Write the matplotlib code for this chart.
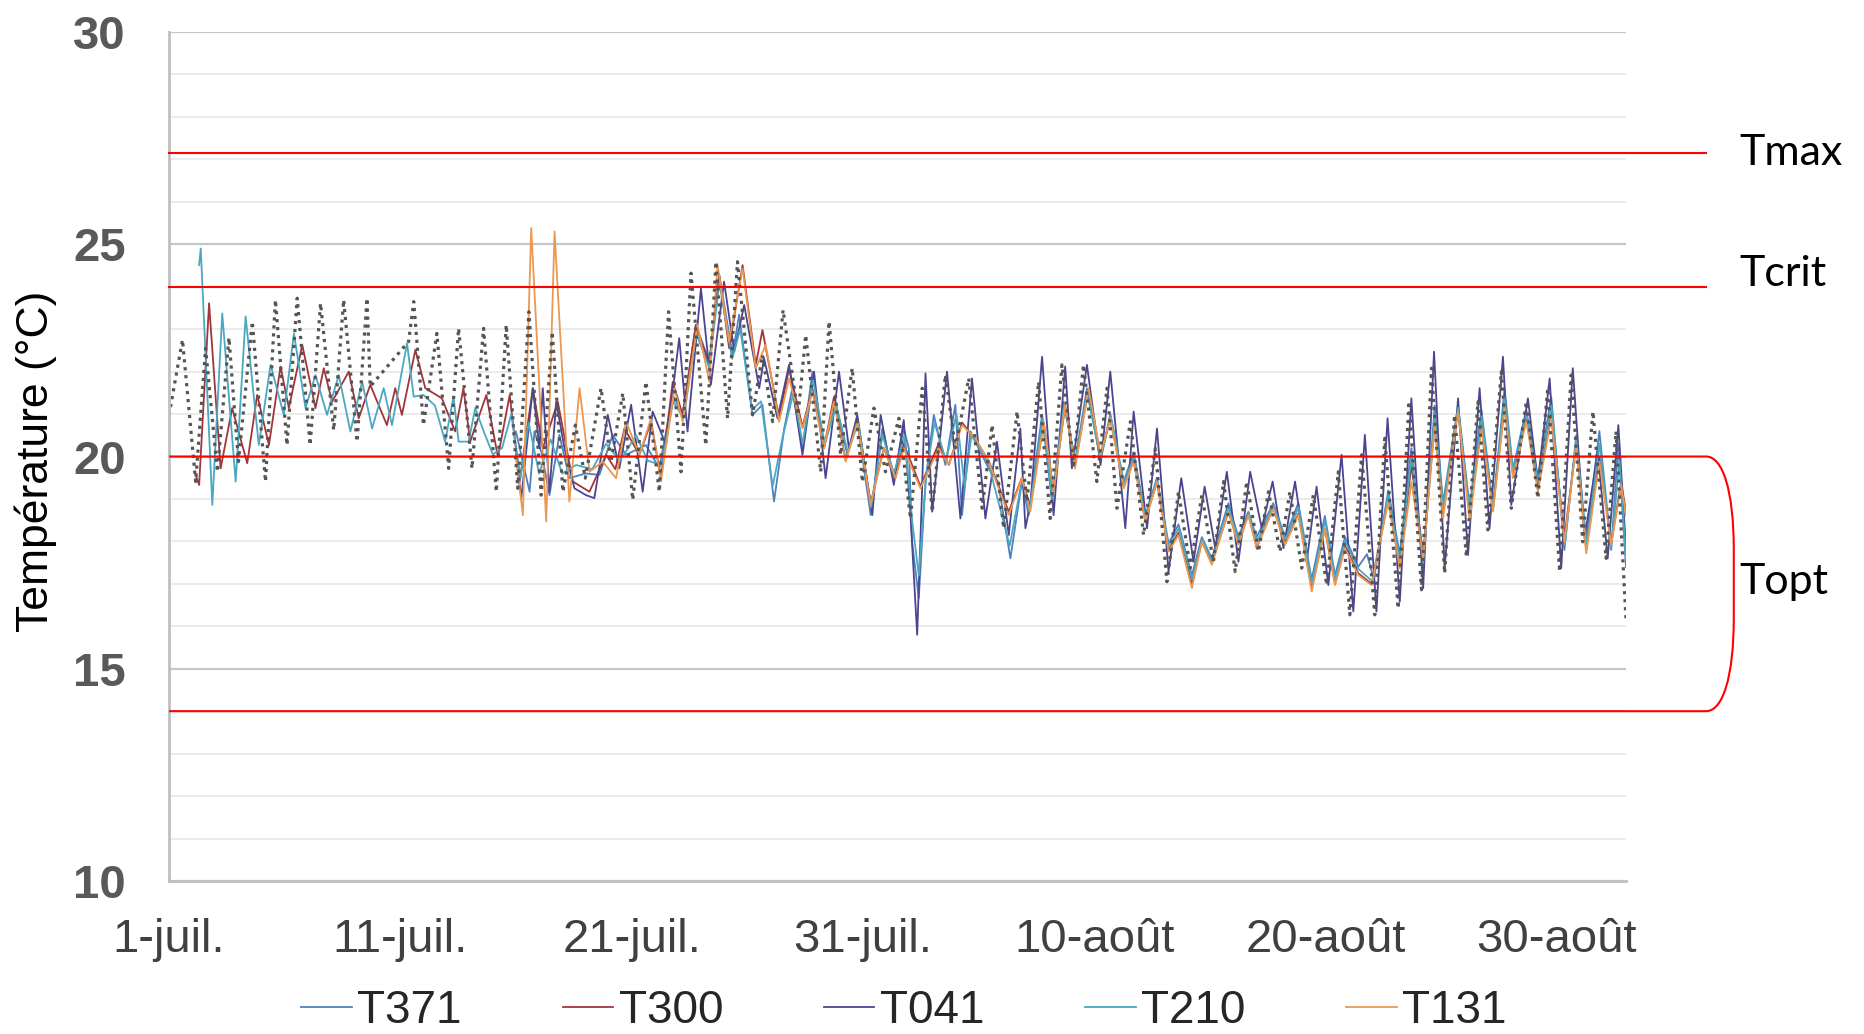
import matplotlib
matplotlib.use("Agg")
from matplotlib import pyplot as plt
from matplotlib.path import Path
from matplotlib.patches import PathPatch
import matplotlib.transforms as mtransforms

# x is counted in days from 1 July
tick_days = [0, 10, 20, 30, 40, 50, 60]
tick_labels = ["1-juil.", "11-juil.", "21-juil.", "31-juil.", "10-août", "20-août", "30-août"]

# thresholds in degC
t_max = 27.15
t_crit = 24.0
t_opt_low = 14.0
t_opt_high = 20.0

# dotted reference series (not listed in the legend)
dot_days = [0.0, 0.58, 1.15, 1.58, 2.09, 2.59, 3.0, 3.6, 4.17, 4.6, 5.1, 5.54, 6.1, 6.55, 7.12, 7.55,
            8.13, 8.56, 8.7, 10.36, 10.58, 11.0, 11.58, 12.09, 12.52, 13.1, 13.6, 14.15, 14.58, 15.08,
            15.56, 16.09, 16.57, 17.03, 17.57, 18.0, 18.68, 19.11, 19.62, 20.05, 20.62, 21.2, 21.6,
            22.14, 22.57, 23.21, 23.65, 24.15, 24.58, 25.23, 25.66, 26.1, 26.55, 27.2, 27.53, 28.18,
            28.54, 29.04, 29.54, 29.98, 30.48, 30.98, 31.56, 32.06, 32.57, 33.0, 33.57, 34.0, 34.58,
            35.16, 35.59, 36.09, 36.67, 37.1, 37.6, 38.1, 38.61, 39.11, 39.54, 40.12, 40.56, 40.99,
            41.57, 42.14, 42.65, 43.15, 43.65, 44.16, 44.66, 45.16, 45.6, 46.1, 46.6, 47.11, 47.54,
            48.04, 48.47, 48.98, 49.48, 50.06, 50.56, 51.06, 51.57, 52.14, 52.57, 53.15, 53.62, 54.16,
            54.59, 55.16, 55.59, 56.1, 56.6, 57.03, 57.61, 58.04, 58.69, 59.19, 59.62, 60.13, 60.63,
            61.13, 61.57, 62.14, 62.57, 63.0]
dot_temp = [20.98, 22.75, 19.41, 22.55, 19.64, 22.8, 19.88, 23.18, 19.41, 23.69, 20.27, 23.73, 20.27,
            23.61, 20.62, 23.69, 20.35, 23.73, 21.65, 22.71, 23.65, 20.74, 22.9, 19.72, 23.02, 19.72,
            23.02, 19.17, 23.1, 19.25, 23.41, 19.09, 22.94, 19.17, 20.74, 19.49, 21.61, 19.88, 21.49,
            18.98, 21.76, 19.17, 23.41, 19.64, 24.32, 20.27, 24.59, 20.9, 24.59, 20.98, 22.39, 20.82,
            23.45, 20.98, 22.86, 19.64, 23.18, 20.04, 22.08, 19.4, 21.14, 19.64, 20.9, 18.54, 21.61,
            18.7, 21.92, 20.2, 21.84, 18.78, 20.74, 18.31, 21.06, 18.94, 21.76, 18.54, 22.16, 19.8,
            22.16, 19.41, 21.61, 18.78, 20.82, 18.15, 20.19, 17.05, 19.17, 17.37, 19.09, 17.52, 19.41,
            17.29, 19.41, 17.76, 19.17, 17.76, 19.17, 17.37, 19.09, 16.97, 19.64, 16.27, 20.04, 16.27,
            20.43, 16.42, 21.3, 16.86, 22.08, 17.25, 20.98, 17.64, 21.29, 18.27, 22.0, 18.78, 21.29,
            19.02, 21.61, 17.29, 21.92, 17.99, 21.06, 17.6, 20.59, 16.19]

t371_days = [15.0, 15.59, 15.8, 16.1, 16.45, 16.88, 17.31, 18.0, 18.61, 19.18, 19.76, 20.62, 21.2,
             21.78, 22.21, 22.78, 23.36, 23.79, 24.37, 24.65, 25.23, 25.66, 26.16, 26.6, 26.95, 27.39,
             27.82, 28.32, 28.82, 29.33, 29.76, 30.34, 30.84, 31.34, 31.77, 31.99, 32.13, 32.42, 32.71,
             33.07, 33.57, 34.0, 34.29, 34.65, 35.44, 35.85, 36.38, 36.88, 37.17, 37.75, 38.18, 38.68,
             39.18, 39.69, 40.28, 40.7, 41.28, 41.71, 42.21, 42.72, 43.22, 43.65, 44.23, 44.66, 45.09,
             45.81, 46.24, 46.67, 47.03, 47.75, 48.26, 48.83, 49.41, 49.98, 50.42, 50.85, 51.42, 51.8,
             52.1, 52.72, 53.22, 53.72, 54.23, 54.73, 55.09, 55.74, 56.24, 56.75, 57.25, 57.75, 58.11,
             58.69, 59.19, 59.77, 60.34, 60.85, 61.28, 61.85, 62.36, 62.67, 63.0]
t371_temp = [20.59, 19.17, 20.59, 20.1, 19.09, 20.51, 19.49, 19.6, 19.57, 20.51, 20.04, 20.27, 19.72,
             21.45, 20.98, 23.1, 22.24, 24.28, 22.39, 23.34, 20.98, 21.22, 18.94, 20.66, 21.6, 20.19,
             22.0, 20.19, 21.29, 20.04, 20.82, 18.62, 20.66, 19.49, 20.66, 20.19, 17.99, 16.66, 19.41,
             20.98, 19.8, 21.22, 18.62, 20.59, 19.72, 19.4, 17.6, 19.41, 18.62, 20.98, 18.94, 21.29,
             19.88, 21.61, 19.9, 21.0, 19.4, 20.1, 18.6, 19.5, 17.95, 18.4, 17.2, 18.1, 17.6, 18.9,
             18.1, 18.7, 18.1, 18.9, 18.1, 18.9, 17.1, 18.6, 17.2, 18.1, 17.4, 17.7, 17.1, 19.2, 17.7,
             20.2, 17.4, 21.2, 18.9, 21.2, 18.8, 21.1, 18.8, 21.6, 19.7, 21.1, 19.5, 21.4, 17.8, 20.5,
             18.0, 20.6, 17.8, 20.3, 17.4]

t300_days = [1.15, 1.3, 1.73, 2.23, 2.73, 3.38, 3.81, 4.32, 4.82, 5.18, 5.76, 6.33, 6.69, 7.05, 7.77,
             8.2, 8.7, 9.42, 9.78, 10.07, 10.65, 11.08, 11.8, 12.37, 12.73, 13.02, 13.72, 14.22, 14.73,
             15.16, 15.73, 16.16, 16.81, 17.46, 18.18, 18.9, 19.3, 19.69, 20.34, 20.84, 21.27, 21.78,
             22.21, 22.78, 23.36, 23.79, 24.22, 24.8, 25.37, 25.66, 26.38, 26.81, 27.39, 27.82, 28.32,
             28.75, 29.26, 29.76, 30.34, 30.91, 31.41, 31.77, 32.49, 33.28, 33.72, 34.29, 34.87, 35.44,
             36.31, 36.88, 37.24, 37.82, 38.25, 38.75, 39.18, 39.76, 40.28, 40.7, 41.28, 41.71, 42.21,
             42.72, 43.22, 43.65, 44.23, 44.66, 45.09, 45.81, 46.24, 46.67, 47.03, 47.75, 48.26, 48.83,
             49.41, 49.98, 50.42, 50.85, 51.42, 52.0, 52.72, 53.22, 53.72, 54.23, 54.73, 55.09, 55.74,
             56.24, 56.75, 57.25, 57.75, 58.11, 58.69, 59.19, 59.77, 60.34, 60.85, 61.28, 61.85, 62.36,
             62.79, 63.0]
t300_temp = [19.57, 19.33, 23.61, 19.72, 21.14, 19.84, 21.45, 20.27, 22.12, 21.14, 22.63, 21.14, 22.08,
             21.29, 22.0, 20.9, 21.69, 20.74, 21.61, 20.98, 22.51, 21.61, 21.37, 20.59, 21.61, 20.35,
             21.45, 19.99, 21.45, 19.41, 21.61, 20.19, 21.29, 19.41, 19.17, 20.04, 19.7, 20.66, 20.04,
             20.82, 19.49, 21.76, 20.98, 23.1, 22.16, 24.28, 22.55, 24.51, 22.16, 22.98, 20.9, 22.08,
             20.7, 21.6, 20.2, 21.4, 19.9, 20.9, 18.9, 20.2, 19.5, 20.3, 19.3, 20.3, 19.8, 20.8, 20.4,
             19.9, 18.7, 19.5, 18.8, 20.8, 19.2, 21.2, 19.8, 21.6, 20.0, 20.9, 19.3, 19.9, 18.5, 19.4,
             17.8, 18.2, 17.0, 18.0, 17.5, 18.7, 17.95, 18.65, 17.85, 18.8, 17.95, 18.65, 16.9, 18.3,
             17.0, 17.9, 17.25, 17.0, 19.0, 17.4, 19.8, 17.7, 20.8, 18.7, 21.1, 18.6, 20.8, 18.8, 21.2,
             19.6, 20.9, 19.3, 21.0, 18.1, 20.3, 17.8, 20.0, 17.95, 19.4, 18.7]

t041_days = [15.0, 15.23, 15.73, 16.02, 16.16, 16.45, 16.74, 17.1, 17.53, 18.03, 18.39, 18.97, 19.47,
             19.98, 20.48, 20.91, 21.49, 22.06, 22.42, 23.0, 23.43, 24.0, 24.44, 24.87, 25.52, 25.73,
             26.31, 26.81, 27.39, 27.89, 28.39, 28.97, 29.4, 29.76, 30.41, 30.77, 31.34, 31.77, 32.06,
             32.35, 32.55, 32.71, 33.0, 33.64, 34.22, 34.72, 35.3, 35.8, 36.31, 36.81, 37.03, 37.25,
             37.75, 38.25, 38.75, 39.04, 39.69, 40.28, 40.7, 41.35, 41.71, 42.29, 42.72, 43.22, 43.77,
             44.3, 44.78, 45.24, 45.74, 46.24, 46.75, 47.25, 47.72, 48.19, 48.69, 49.19, 49.62, 50.13,
             50.7, 51.21, 51.71, 52.21, 52.69, 53.22, 53.72, 54.23, 54.7, 55.16, 55.74, 56.17, 56.67,
             57.1, 57.68, 58.04, 58.76, 59.19, 59.7, 60.2, 60.7, 61.21, 61.78, 62.21, 62.67, 63.0]
t041_temp = [20.04, 19.02, 21.61, 20.19, 21.61, 19.17, 21.29, 20.19, 19.25, 19.09, 19.02, 20.98, 19.72,
             21.22, 19.17, 21.06, 20.27, 22.79, 20.59, 23.96, 21.69, 24.12, 22.47, 23.57, 21.61, 22.31,
             20.9, 22.16, 20.04, 22.0, 19.49, 22.0, 20.19, 20.98, 18.62, 20.98, 19.33, 20.86, 18.62,
             15.8, 19.0, 21.96, 18.7, 22.0, 18.54, 21.84, 18.54, 20.35, 18.15, 20.66, 18.31, 18.9,
             22.35, 18.62, 22.12, 19.72, 22.16, 19.8, 22.0, 18.31, 21.06, 18.31, 20.66, 17.29, 19.49,
             17.52, 19.29, 17.84, 19.64, 17.52, 19.64, 18.31, 19.41, 17.84, 19.41, 17.52, 19.29, 16.97,
             20.04, 16.35, 20.51, 16.35, 20.9, 16.58, 21.37, 16.9, 22.47, 17.37, 21.37, 17.68, 21.61,
             18.31, 22.35, 18.86, 21.37, 19.41, 21.84, 17.37, 22.08, 18.07, 20.12, 17.6, 20.74, 17.84]

t210_days = [1.3, 1.37, 1.87, 2.3, 2.88, 3.31, 3.88, 4.39, 4.96, 5.4, 5.9, 6.33, 6.83, 7.34, 7.84,
             8.35, 8.78, 9.28, 9.64, 10.29, 10.58, 11.0, 11.5, 11.94, 12.3, 12.52, 12.95, 13.24, 13.6,
             14.0, 14.4, 14.8, 15.2, 15.55, 16.0, 16.5, 17.0, 17.6, 18.3, 18.9, 19.5, 20.2, 20.7, 21.3,
             21.8, 22.25, 22.8, 23.35, 23.8, 24.35, 24.7, 25.2, 25.6, 26.1, 26.55, 27.0, 27.4, 27.85,
             28.35, 28.85, 29.35, 29.8, 30.35, 30.85, 31.35, 31.8, 32.15, 32.42, 32.75, 33.1, 33.6,
             34.05, 34.4, 34.7, 35.45, 36.35, 36.9, 37.2, 37.78, 38.2, 38.7, 39.2, 39.7, 40.28, 40.72,
             41.3, 41.72, 42.22, 42.72, 43.22, 43.66, 44.24, 44.68, 45.1, 45.82, 46.25, 46.68, 47.05,
             47.76, 48.27, 48.84, 49.42, 49.99, 50.43, 50.86, 51.43, 52.05, 52.72, 53.23, 53.72, 54.23,
             54.73, 55.1, 55.74, 56.24, 56.75, 57.25, 57.75, 58.12, 58.7, 59.2, 59.78, 60.35, 60.85,
             61.3, 61.85, 62.36, 62.72, 63.0]
t210_temp = [24.51, 24.9, 18.86, 23.37, 19.41, 23.3, 20.27, 22.16, 20.98, 22.9, 21.14, 21.92, 20.98,
             21.92, 20.59, 21.76, 20.66, 21.61, 20.74, 22.67, 21.41, 21.45, 21.2, 20.35, 21.41, 20.35,
             20.35, 21.14, 20.6, 20.05, 20.2, 21.0, 19.5, 20.8, 19.6, 20.4, 19.6, 19.8, 19.7, 20.3,
             19.9, 20.5, 19.9, 19.8, 21.3, 20.9, 22.9, 22.1, 24.1, 22.3, 23.0, 21.1, 21.3, 19.3, 20.5,
             21.5, 20.3, 21.8, 20.3, 21.2, 20.1, 20.8, 18.8, 20.5, 19.6, 20.5, 18.4, 17.2, 19.6, 20.8,
             19.9, 21.0, 19.3, 20.5, 19.8, 17.9, 19.5, 18.7, 20.9, 19.0, 21.2, 19.9, 21.5, 19.95, 20.95,
             19.35, 20.0, 18.55, 19.45, 17.9, 18.3, 17.1, 18.05, 17.55, 18.8, 18.0, 18.65, 18.0, 18.85,
             18.05, 18.8, 17.0, 18.5, 17.1, 18.0, 17.35, 17.05, 19.1, 17.55, 20.0, 17.5, 21.0, 18.8,
             21.15, 18.7, 20.95, 18.75, 21.4, 19.65, 21.0, 19.4, 21.2, 17.9, 20.4, 17.9, 20.3, 17.85,
             19.9, 17.6]

t131_days = [15.0, 15.3, 15.66, 16.31, 16.67, 17.31, 17.75, 18.18, 18.75, 19.33, 19.76, 20.34, 20.84,
             21.27, 21.85, 22.21, 22.85, 23.36, 23.72, 24.22, 24.8, 25.37, 25.8, 26.38, 26.81, 27.39,
             27.82, 28.32, 28.75, 29.26, 29.76, 30.34, 30.91, 31.41, 31.77, 32.49, 33.28, 33.72, 34.29,
             34.87, 35.44, 36.31, 36.88, 37.24, 37.82, 38.25, 38.75, 39.18, 39.76, 40.28, 40.7, 41.28,
             41.71, 42.21, 42.72, 43.22, 43.65, 44.23, 44.66, 45.09, 45.81, 46.24, 46.67, 47.03, 47.75,
             48.26, 48.83, 49.41, 49.98, 50.42, 50.85, 51.42, 52.0, 52.72, 53.22, 53.72, 54.23, 54.73,
             55.09, 55.74, 56.24, 56.75, 57.25, 57.75, 58.11, 58.69, 59.19, 59.77, 60.34, 60.85, 61.28,
             61.85, 62.36, 62.79, 63.0]
t131_temp = [20.0, 18.62, 25.38, 18.47, 25.3, 18.94, 21.61, 19.64, 19.88, 19.49, 20.82, 20.04, 20.9,
             19.41, 21.61, 20.82, 23.1, 21.76, 24.51, 22.71, 24.43, 22.08, 22.63, 20.82, 21.84, 20.66,
             21.53, 20.19, 21.29, 19.88, 20.82, 18.86, 20.19, 19.49, 20.19, 19.25, 20.19, 19.8, 20.74,
             20.43, 19.88, 18.62, 19.49, 18.7, 20.82, 19.17, 21.22, 19.72, 21.61, 20.04, 20.9, 19.25,
             19.88, 18.47, 19.41, 17.76, 18.15, 16.9, 17.99, 17.45, 18.7, 17.92, 18.62, 17.84, 18.78,
             17.92, 18.62, 16.82, 18.31, 16.97, 17.84, 17.21, 16.97, 18.94, 17.37, 19.4, 17.6, 20.74,
             18.54, 21.06, 18.47, 20.66, 18.7, 21.14, 19.49, 20.82, 19.17, 20.9, 17.99, 20.27, 17.72,
             19.88, 17.92, 19.33, 18.62]

series = [
    ("T371", t371_days, t371_temp, "#4f81bd"),
    ("T300", t300_days, t300_temp, "#a3343a"),
    ("T041", t041_days, t041_temp, "#4a4590"),
    ("T210", t210_days, t210_temp, "#4aa8c0"),
    ("T131", t131_days, t131_temp, "#eb9850"),
]

plt.rcParams['font.family'] = ['Liberation Sans', 'DejaVu Sans']

fig = plt.figure(figsize=(18.64, 10.34), dpi=100)
ax = fig.add_axes([0.0907, 0.148, 0.7816, 0.821])

handles = []
for name, d, t, c in series:
    ln, = ax.plot(d, t, color=c, lw=1.3, label=name)
    handles.append(ln)
ax.plot(dot_days, dot_temp, color="#555555", lw=2.3, linestyle=(0, (1, 1.5)))

ax.set_xlim(0, 63)
ax.set_ylim(10, 30)
ax.set_yticks(range(10, 31, 5))
ax.set_yticks(range(10, 31), minor=True)
ax.set_xticks(tick_days, tick_labels)
ax.grid(which='major', axis='y', color='#c6c6c6', lw=1.6)
ax.grid(which='minor', axis='y', color='#ebebeb', lw=1.4)
ax.set_axisbelow(True)
for s in ['top', 'right']:
    ax.spines[s].set_visible(False)
for s in ['left', 'bottom']:
    ax.spines[s].set_color('#c0c0c0')
    ax.spines[s].set_linewidth(2)
ax.tick_params(axis='x', length=0, pad=27, labelsize=34, labelcolor='#404040')
ax.tick_params(axis='y', which='both', length=0, pad=31, labelsize=34, labelcolor='#595959')
for lbl in ax.get_yticklabels():
    lbl.set_fontweight('bold')

# threshold lines run past the plot area on the right
trans = mtransforms.blended_transform_factory(ax.transAxes, ax.transData)
x_end = 1.055
for yv in [t_max, t_crit]:
    ax.plot([0, x_end], [yv, yv], color='red', lw=1.5, transform=trans, clip_on=False, zorder=5)

# Topt bracket
w = 0.019
verts = [(0, t_opt_high), (x_end, t_opt_high),
         (x_end + 0.6 * w, t_opt_high), (x_end + w, t_opt_high - 0.8), (x_end + w, t_opt_high - 2.2),
         (x_end + w, t_opt_low + 2.2),
         (x_end + w, t_opt_low + 0.8), (x_end + 0.6 * w, t_opt_low), (x_end, t_opt_low),
         (0, t_opt_low)]
codes = [Path.MOVETO, Path.LINETO, Path.CURVE4, Path.CURVE4, Path.CURVE4, Path.LINETO,
         Path.CURVE4, Path.CURVE4, Path.CURVE4, Path.LINETO]
ax.add_patch(PathPatch(Path(verts, codes), transform=trans, fill=False, edgecolor='red',
                       lw=1.5, clip_on=False, zorder=5))

lab_font = ['Lato', 'Liberation Sans']
ax.text(1.0775, t_max, "Tmax", transform=trans, va='center', ha='left', fontsize=31, family=lab_font)
ax.text(1.0775, t_crit + 0.3, "Tcrit", transform=trans, va='center', ha='left', fontsize=31, family=lab_font)
ax.text(1.0775, 17.05, "Topt", transform=trans, va='center', ha='left', fontsize=31, family=lab_font)

fig.text(0.019, 0.554, "Température (°C)", rotation=90, va='center', ha='center', fontsize=32)

fig.legend(handles, [h.get_label() for h in handles], loc='center', bbox_to_anchor=(0.485, 0.022),
           ncol=5, frameon=False, prop={'size': 33}, handlelength=1.1,
           handletextpad=0.12, columnspacing=2.2, labelcolor='#262626')

fig.savefig("out.png", dpi=100)
